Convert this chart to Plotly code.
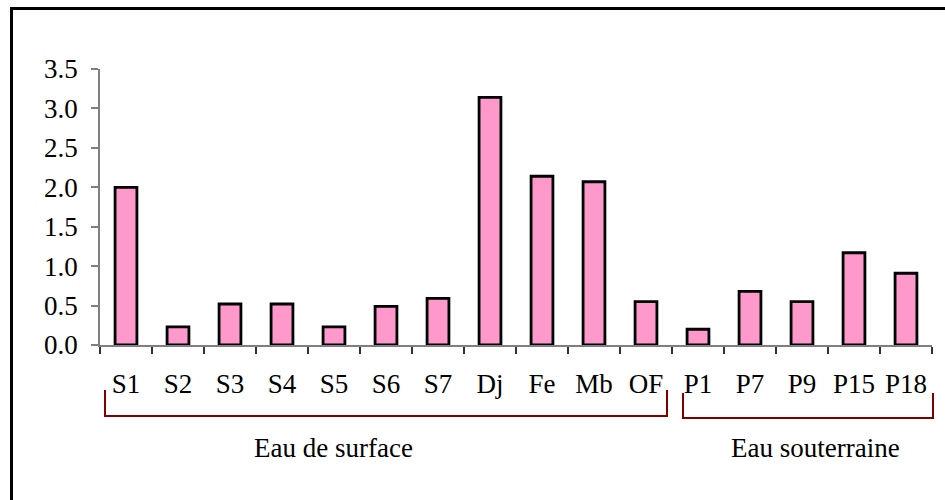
import plotly.graph_objects as go

categories = ["S1", "S2", "S3", "S4", "S5", "S6", "S7", "Dj", "Fe", "Mb", "OF",
              "P1", "P7", "P9", "P15", "P18"]
values = [2.00, 0.23, 0.52, 0.52, 0.23, 0.49, 0.59, 3.14, 2.14, 2.07, 0.55,
          0.20, 0.68, 0.55, 1.17, 0.91]
group_labels = ["Eau de surface", "Eau souterraine"]

FONT = "Liberation Serif, Times New Roman, serif"
FS = 27

fig = go.Figure(go.Bar(
    x=categories, y=values,
    marker=dict(color="#FF99CC", line=dict(color="black", width=2.8)),
    width=0.42,
))

W, H = 945, 500
L, R, T, B = 100, 13, 69, 155
pw, ph = W - L - R, H - T - B


def px_x(x):
    return (x - L) / pw


def px_y(y):
    return (H - B - y) / ph


shapes = []
br = "#800000"
shapes.append(dict(type="path", xref="paper", yref="paper",
                   path=f"M {px_x(105)} {px_y(390)} L {px_x(105)} {px_y(416)} "
                        f"L {px_x(667)} {px_y(416)} L {px_x(667)} {px_y(390)}",
                   line=dict(color=br, width=2)))
shapes.append(dict(type="path", xref="paper", yref="paper",
                   path=f"M {px_x(683)} {px_y(393)} L {px_x(683)} {px_y(418)} "
                        f"L {px_x(933)} {px_y(418)} L {px_x(933)} {px_y(393)}",
                   line=dict(color=br, width=2)))
shapes.append(dict(type="path", xref="paper", yref="paper",
                   path=f"M {px_x(11.5)} {px_y(505)} L {px_x(11.5)} {px_y(8.5)} L {px_x(950)} {px_y(8.5)}",
                   line=dict(color="black", width=3)))

annotations = [
    dict(text=group_labels[0], xref="paper", yref="paper", x=px_x(333), y=px_y(448),
         showarrow=False, font=dict(family=FONT, size=FS, color="black"),
         xanchor="center", yanchor="middle"),
    dict(text=group_labels[1], xref="paper", yref="paper", x=px_x(815), y=px_y(448),
         showarrow=False, font=dict(family=FONT, size=FS, color="black"),
         xanchor="center", yanchor="middle"),
]

fig.update_layout(
    width=W, height=H,
    margin=dict(l=L, r=R, t=T, b=B, pad=0),
    paper_bgcolor="white", plot_bgcolor="white",
    showlegend=False,
    shapes=shapes, annotations=annotations,
    font=dict(family=FONT, size=FS, color="black"),
    xaxis=dict(
        showline=True, linecolor="#808080", linewidth=1.5,
        ticks="outside", tickson="boundaries", ticklen=7, tickcolor="#333",
        tickwidth=1.5, ticklabelstandoff=14,
        tickfont=dict(family=FONT, size=FS, color="black"),
        showgrid=False, zeroline=False,
    ),
    yaxis=dict(
        range=[0, 3.5], dtick=0.5, tickformat=".1f",
        showline=True, linecolor="#808080", linewidth=1.5,
        ticks="outside", ticklen=7, tickcolor="#808080", tickwidth=1.5,
        ticklabelstandoff=8,
        tickfont=dict(family=FONT, size=FS, color="black"),
        showgrid=False, zeroline=False,
    ),
)

fig.write_html("out.html", config={"displayModeBar": False},
               post_script="document.body.style.margin='0';")
